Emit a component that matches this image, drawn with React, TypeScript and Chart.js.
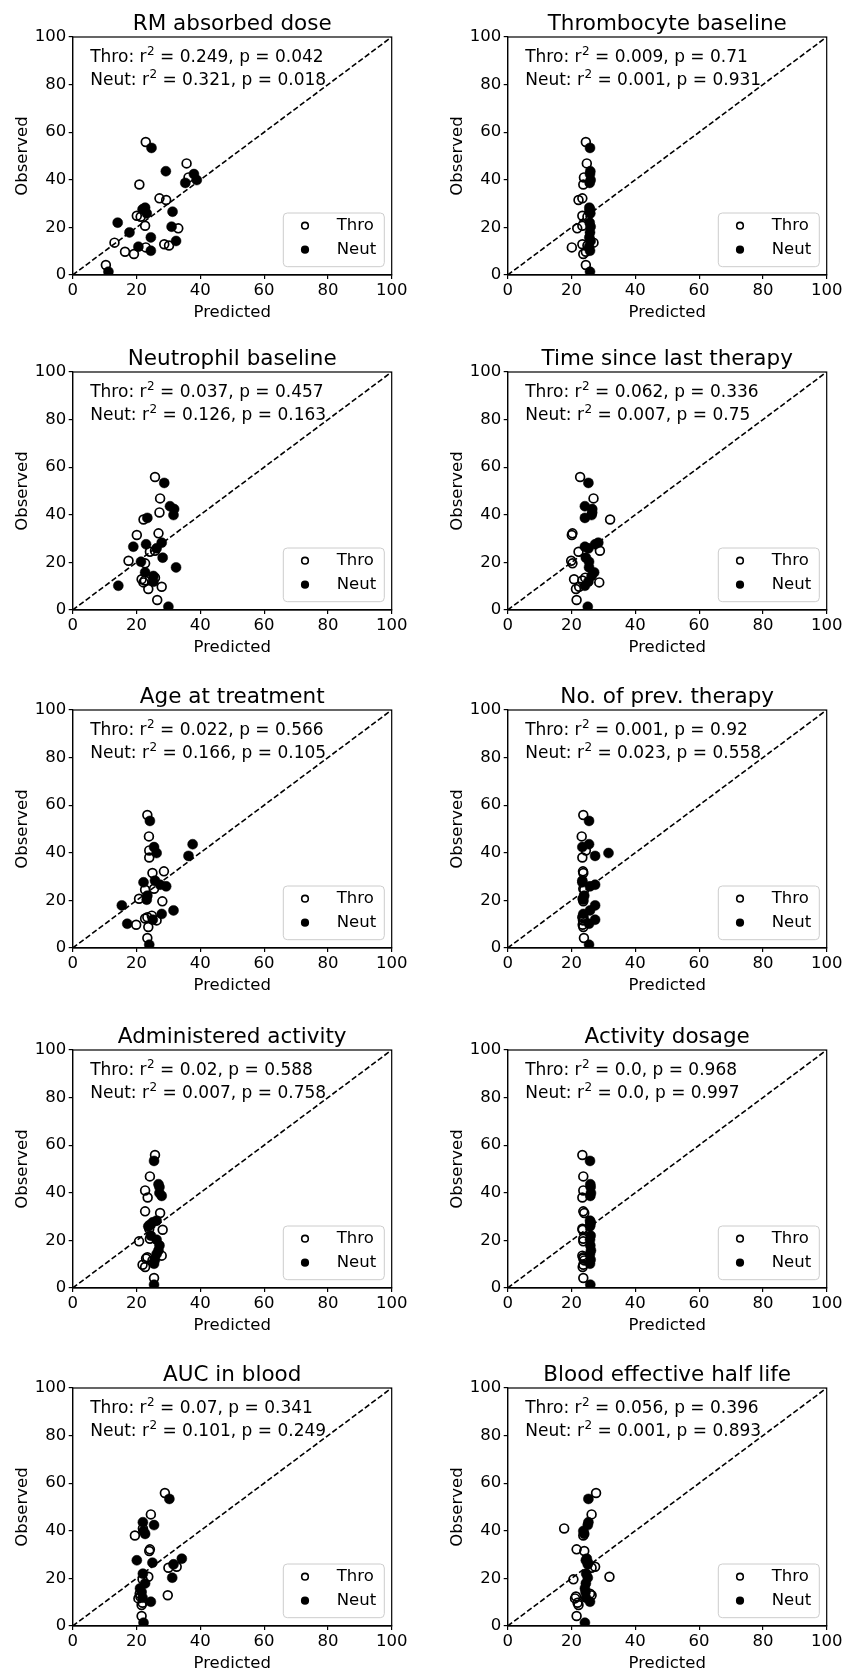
import React, { useEffect, useRef } from "react";
import { Chart, registerables } from "chart.js";
Chart.register(...registerables);

// Observed values (same patients in every panel), sorted ascending
const thrObserved = [4.2, 8.8, 9.8, 11.6, 12.4, 12.9, 13.6, 19.6, 20.7, 24.5, 24.9, 31.5, 32.2, 38.0, 41.0, 46.9, 55.9];
const neutObserved = [1.4, 10.2, 11.9, 14.3, 15.8, 17.9, 20.3, 22.0, 25.9, 26.6, 27.6, 28.3, 38.7, 39.9, 42.4, 43.6, 53.4];

// Predicted values per panel (same order as the observed arrays)
const rmDoseThr = [10.4, 19.2, 16.4, 22.9, 30.2, 28.7, 13.1, 33.1, 22.7, 21.3, 20.1, 29.3, 27.2, 20.9, 36.3, 35.7, 22.9];
const rmDoseNeut = [11.2, 24.5, 20.6, 32.4, 24.5, 17.8, 31.0, 14.1, 23.2, 31.3, 21.9, 22.7, 35.3, 38.9, 38.0, 29.2, 24.7];
const thrBaseThr = [24.5, 23.7, 24.5, 20.1, 25.0, 23.4, 26.9, 21.8, 23.4, 25.0, 23.4, 22.2, 23.4, 23.7, 23.9, 24.8, 24.5];
const thrBaseNeut = [25.8, 25.8, 25.5, 26.0, 25.6, 25.8, 26.0, 25.7, 25.9, 25.6, 25.8, 25.6, 25.7, 26.0, 25.8, 25.9, 25.8];
const neutBaseThr = [26.5, 23.7, 27.9, 22.2, 22.6, 21.6, 25.8, 22.7, 17.5, 24.2, 25.8, 20.1, 26.9, 22.2, 27.2, 27.4, 25.8];
const neutBaseNeut = [30.0, 14.3, 25.3, 25.3, 22.7, 32.4, 21.4, 28.2, 26.3, 19.0, 23.0, 27.9, 23.4, 31.6, 31.8, 30.5, 28.7];
const timeThr = [21.6, 21.4, 22.4, 28.7, 23.4, 20.8, 24.3, 20.3, 19.9, 22.2, 28.9, 20.1, 20.3, 32.1, 26.5, 26.9, 22.7];
const timeNeut = [25.1, 24.2, 25.3, 26.3, 27.1, 25.5, 25.5, 24.5, 25.3, 24.2, 27.4, 28.4, 24.2, 26.3, 26.5, 24.2, 25.3];
const ageThr = [23.4, 23.7, 19.9, 26.3, 22.7, 23.4, 24.8, 28.1, 20.8, 22.7, 25.5, 25.0, 28.6, 24.0, 24.0, 23.9, 23.4];
const ageNeut = [24.0, 17.1, 25.1, 27.9, 31.6, 15.4, 23.2, 23.4, 29.3, 27.4, 22.2, 25.8, 36.3, 26.3, 25.5, 37.6, 24.2];
const prevThr = [23.9, 23.7, 23.5, 23.6, 23.8, 23.4, 23.7, 23.7, 23.5, 24.0, 23.7, 23.7, 23.6, 23.4, 24.5, 23.2, 23.7];
const prevNeut = [25.5, 25.5, 27.4, 23.7, 25.8, 27.4, 23.7, 24.0, 25.8, 27.4, 23.4, 23.4, 27.4, 31.6, 23.4, 25.5, 25.5];
const adminThr = [25.5, 22.7, 21.9, 25.0, 23.0, 23.4, 27.9, 20.8, 24.2, 28.2, 24.0, 27.4, 22.7, 23.5, 22.7, 24.2, 25.8];
const adminNeut = [25.5, 25.5, 25.8, 26.3, 26.9, 27.2, 26.3, 24.5, 23.7, 24.2, 25.1, 26.3, 27.9, 27.2, 27.2, 26.9, 25.5];
const dosageThr = [23.7, 23.5, 23.7, 24.0, 23.7, 23.7, 23.4, 23.7, 23.7, 23.5, 23.4, 24.0, 23.7, 23.4, 23.7, 23.7, 23.4];
const dosageNeut = [25.9, 25.8, 26.0, 25.8, 26.1, 25.9, 25.8, 26.0, 25.8, 25.9, 26.0, 25.8, 25.9, 26.1, 26.0, 25.9, 25.8];
const aucThr = [21.6, 21.6, 21.9, 20.6, 21.2, 29.8, 21.0, 21.9, 23.7, 30.0, 32.6, 24.0, 24.2, 19.5, 22.0, 24.5, 28.9];
const aucNeut = [22.2, 24.5, 21.9, 21.6, 21.1, 22.7, 31.2, 22.0, 31.6, 25.0, 20.1, 34.2, 22.7, 22.2, 25.5, 22.0, 30.3];
const halfLifeThr = [21.6, 22.2, 21.9, 21.1, 21.4, 26.3, 25.8, 20.6, 31.9, 26.3, 27.4, 24.0, 21.6, 23.7, 17.7, 26.3, 27.7];
const halfLifeNeut = [24.2, 25.8, 24.5, 24.4, 24.2, 24.5, 25.1, 24.6, 25.1, 25.2, 24.5, 24.8, 24.0, 23.7, 25.1, 25.3, 25.3];

const panelTitles = [
  "RM absorbed dose", "Thrombocyte baseline", "Neutrophil baseline", "Time since last therapy",
  "Age at treatment", "No. of prev. therapy", "Administered activity", "Activity dosage",
  "AUC in blood", "Blood effective half life",
];
const thrR2 = ["0.249", "0.009", "0.037", "0.062", "0.022", "0.001", "0.02", "0.0", "0.07", "0.056"];
const thrP = ["0.042", "0.71", "0.457", "0.336", "0.566", "0.92", "0.588", "0.968", "0.341", "0.396"];
const neutR2 = ["0.321", "0.001", "0.126", "0.007", "0.166", "0.023", "0.007", "0.0", "0.101", "0.001"];
const neutP = ["0.018", "0.931", "0.163", "0.75", "0.105", "0.558", "0.758", "0.997", "0.249", "0.893"];
const seriesNames = ["Thro", "Neut"];
const identityLine = [0, 100];
const axisMin = 0;
const axisMax = 100;
const axisStep = 20;

const predThrList = [rmDoseThr, thrBaseThr, neutBaseThr, timeThr, ageThr, prevThr, adminThr, dosageThr, aucThr, halfLifeThr];
const predNeutList = [rmDoseNeut, thrBaseNeut, neutBaseNeut, timeNeut, ageNeut, prevNeut, adminNeut, dosageNeut, aucNeut, halfLifeNeut];

const FONT = "'DejaVu Sans', sans-serif";
const COL_LEFT = [72.7, 507.7];
const ROW_BOTTOM = [275, 610, 948, 1288, 1626];
const PW = 319;
const PH = 238;
const Y_W = 40;
const X_H = 25;
const TOP_EXT = 37;

function Panel({ idx }: { idx: number }) {
  const ref = useRef<HTMLCanvasElement>(null);
  const col = idx % 2;
  const row = Math.floor(idx / 2);
  const cx = col === 0 ? 0 : 422;
  const cw = col === 0 ? 422 : 423;
  const cy = ROW_BOTTOM[row] - PH - TOP_EXT;
  const ch = 325;

  useEffect(() => {
    const Lp = COL_LEFT[col];
    const padding = {
      left: Lp - cx - Y_W,
      right: cx + cw - Lp - PW,
      top: TOP_EXT,
      bottom: ch - TOP_EXT - PH - X_H,
    };
    const thrData = thrObserved.map((y, i) => ({ x: predThrList[idx][i], y }));
    const neutData = neutObserved.map((y, i) => ({ x: predNeutList[idx][i], y }));
    const lineData = identityLine.map((v) => ({ x: v, y: v }));

    const drawStat = (ctx: any, name: string, r2: string, p: string, x: number, y: number) => {
      ctx.font = `17px ${FONT}`;
      ctx.textAlign = "left";
      ctx.textBaseline = "alphabetic";
      let cur = x;
      const part1 = `${name}: r`;
      ctx.fillText(part1, cur, y);
      cur += ctx.measureText(part1).width + 0.5;
      ctx.font = `12px ${FONT}`;
      ctx.fillText("2", cur, y - 7);
      cur += ctx.measureText("2").width;
      ctx.font = `17px ${FONT}`;
      ctx.fillText(` = ${r2}, p = ${p}`, cur, y);
    };

    const decor = {
      id: "decor" + idx,
      afterDraw(chart: any) {
        const ctx = chart.ctx;
        const a = chart.chartArea;
        ctx.save();
        // frame
        ctx.strokeStyle = "#000";
        ctx.lineWidth = 1.2;
        ctx.strokeRect(a.left, a.top, a.right - a.left, a.bottom - a.top);
        // title
        ctx.fillStyle = "#000";
        ctx.font = `21.5px ${FONT}`;
        ctx.textAlign = "center";
        ctx.textBaseline = "alphabetic";
        ctx.fillText(panelTitles[idx], (a.left + a.right) / 2, a.top - 7);
        // stats
        drawStat(ctx, seriesNames[0], thrR2[idx], thrP[idx], a.left + 17.5, a.top + 24.5);
        drawStat(ctx, seriesNames[1], neutR2[idx], neutP[idx], a.left + 17.5, a.top + 47.5);
        // axis titles
        ctx.font = `16.5px ${FONT}`;
        ctx.textAlign = "center";
        ctx.fillText("Predicted", (a.left + a.right) / 2, a.bottom + 41.7);
        ctx.save();
        ctx.translate(a.left - 46, (a.top + a.bottom) / 2);
        ctx.rotate(-Math.PI / 2);
        ctx.fillText("Observed", 0, 0);
        ctx.restore();
        // legend
        const bw = 101, bh = 53.7;
        const bx = a.right - 7.4 - bw;
        const by = a.bottom - 8.3 - bh;
        ctx.beginPath();
        const r = 4;
        ctx.moveTo(bx + r, by);
        ctx.arcTo(bx + bw, by, bx + bw, by + bh, r);
        ctx.arcTo(bx + bw, by + bh, bx, by + bh, r);
        ctx.arcTo(bx, by + bh, bx, by, r);
        ctx.arcTo(bx, by, bx + bw, by, r);
        ctx.closePath();
        ctx.fillStyle = "rgba(255,255,255,0.8)";
        ctx.fill();
        ctx.strokeStyle = "#cccccc";
        ctx.lineWidth = 1;
        ctx.stroke();
        const my = [by + 12.7, by + 36.7];
        ctx.beginPath();
        ctx.arc(bx + 21.7, my[0], 3.3, 0, Math.PI * 2);
        ctx.strokeStyle = "#000";
        ctx.lineWidth = 1.6;
        ctx.stroke();
        ctx.beginPath();
        ctx.arc(bx + 21.7, my[1], 4.1, 0, Math.PI * 2);
        ctx.fillStyle = "#000";
        ctx.fill();
        ctx.font = `16.5px ${FONT}`;
        ctx.textAlign = "left";
        ctx.textBaseline = "middle";
        ctx.fillText(seriesNames[0], bx + 53.4, my[0]);
        ctx.fillText(seriesNames[1], bx + 53.4, my[1]);
        ctx.restore();
      },
    };

    const axisCommon = (isX: boolean) => ({
      type: "linear" as const,
      min: axisMin,
      max: axisMax,
      afterFit: (s: any) => {
        if (isX) {
          s.height = X_H;
          s.paddingLeft = 0;
          s.paddingRight = 0;
        } else {
          s.width = Y_W;
          s.paddingTop = 0;
          s.paddingBottom = 0;
        }
      },
      grid: { drawOnChartArea: false, drawTicks: true, tickLength: 4, color: "#000", lineWidth: 1.2 },
      border: { display: true, color: "#000", width: 1.2 },
      ticks: {
        stepSize: axisStep,
        color: "#000",
        font: { family: FONT, size: 16.5 },
        padding: isX ? 2 : 2.5,
        maxRotation: 0,
        autoSkip: false,
      },
    });

    const chart = new Chart(ref.current as HTMLCanvasElement, {
      type: "scatter",
      data: {
        datasets: [
          {
            label: seriesNames[1],
            data: neutData,
            order: 0,
            pointRadius: 5,
            pointBackgroundColor: "#000",
            pointBorderColor: "#000",
            pointBorderWidth: 0.5,
          },
          {
            label: seriesNames[0],
            data: thrData,
            order: 1,
            pointRadius: 4.4,
            pointBackgroundColor: "rgba(0,0,0,0)",
            pointBorderColor: "#000",
            pointBorderWidth: 1.7,
          },
          {
            type: "line",
            label: "identity",
            data: lineData,
            order: 2,
            borderColor: "#000",
            borderWidth: 1.6,
            borderDash: [5.5, 2.6],
            pointRadius: 0,
            fill: false,
          } as any,
        ],
      },
      options: {
        animation: false,
        responsive: false,
        devicePixelRatio: 1,
        layout: { padding },
        plugins: { legend: { display: false }, tooltip: { enabled: false }, title: { display: false } },
        scales: { x: axisCommon(true) as any, y: axisCommon(false) as any },
      },
      plugins: [decor],
    });
    return () => chart.destroy();
  }, [idx]);

  return (
    <canvas
      ref={ref}
      width={cw}
      height={ch}
      style={{ position: "absolute", left: cx, top: cy, width: cw, height: ch }}
    />
  );
}

export default function App() {
  return (
    <div
      style={{
        position: "absolute",
        left: 0,
        top: 0,
        width: 845,
        height: 1671,
        overflow: "hidden",
        background: "#fff",
      }}
    >
      {panelTitles.map((_, i) => (
        <Panel key={i} idx={i} />
      ))}
    </div>
  );
}
